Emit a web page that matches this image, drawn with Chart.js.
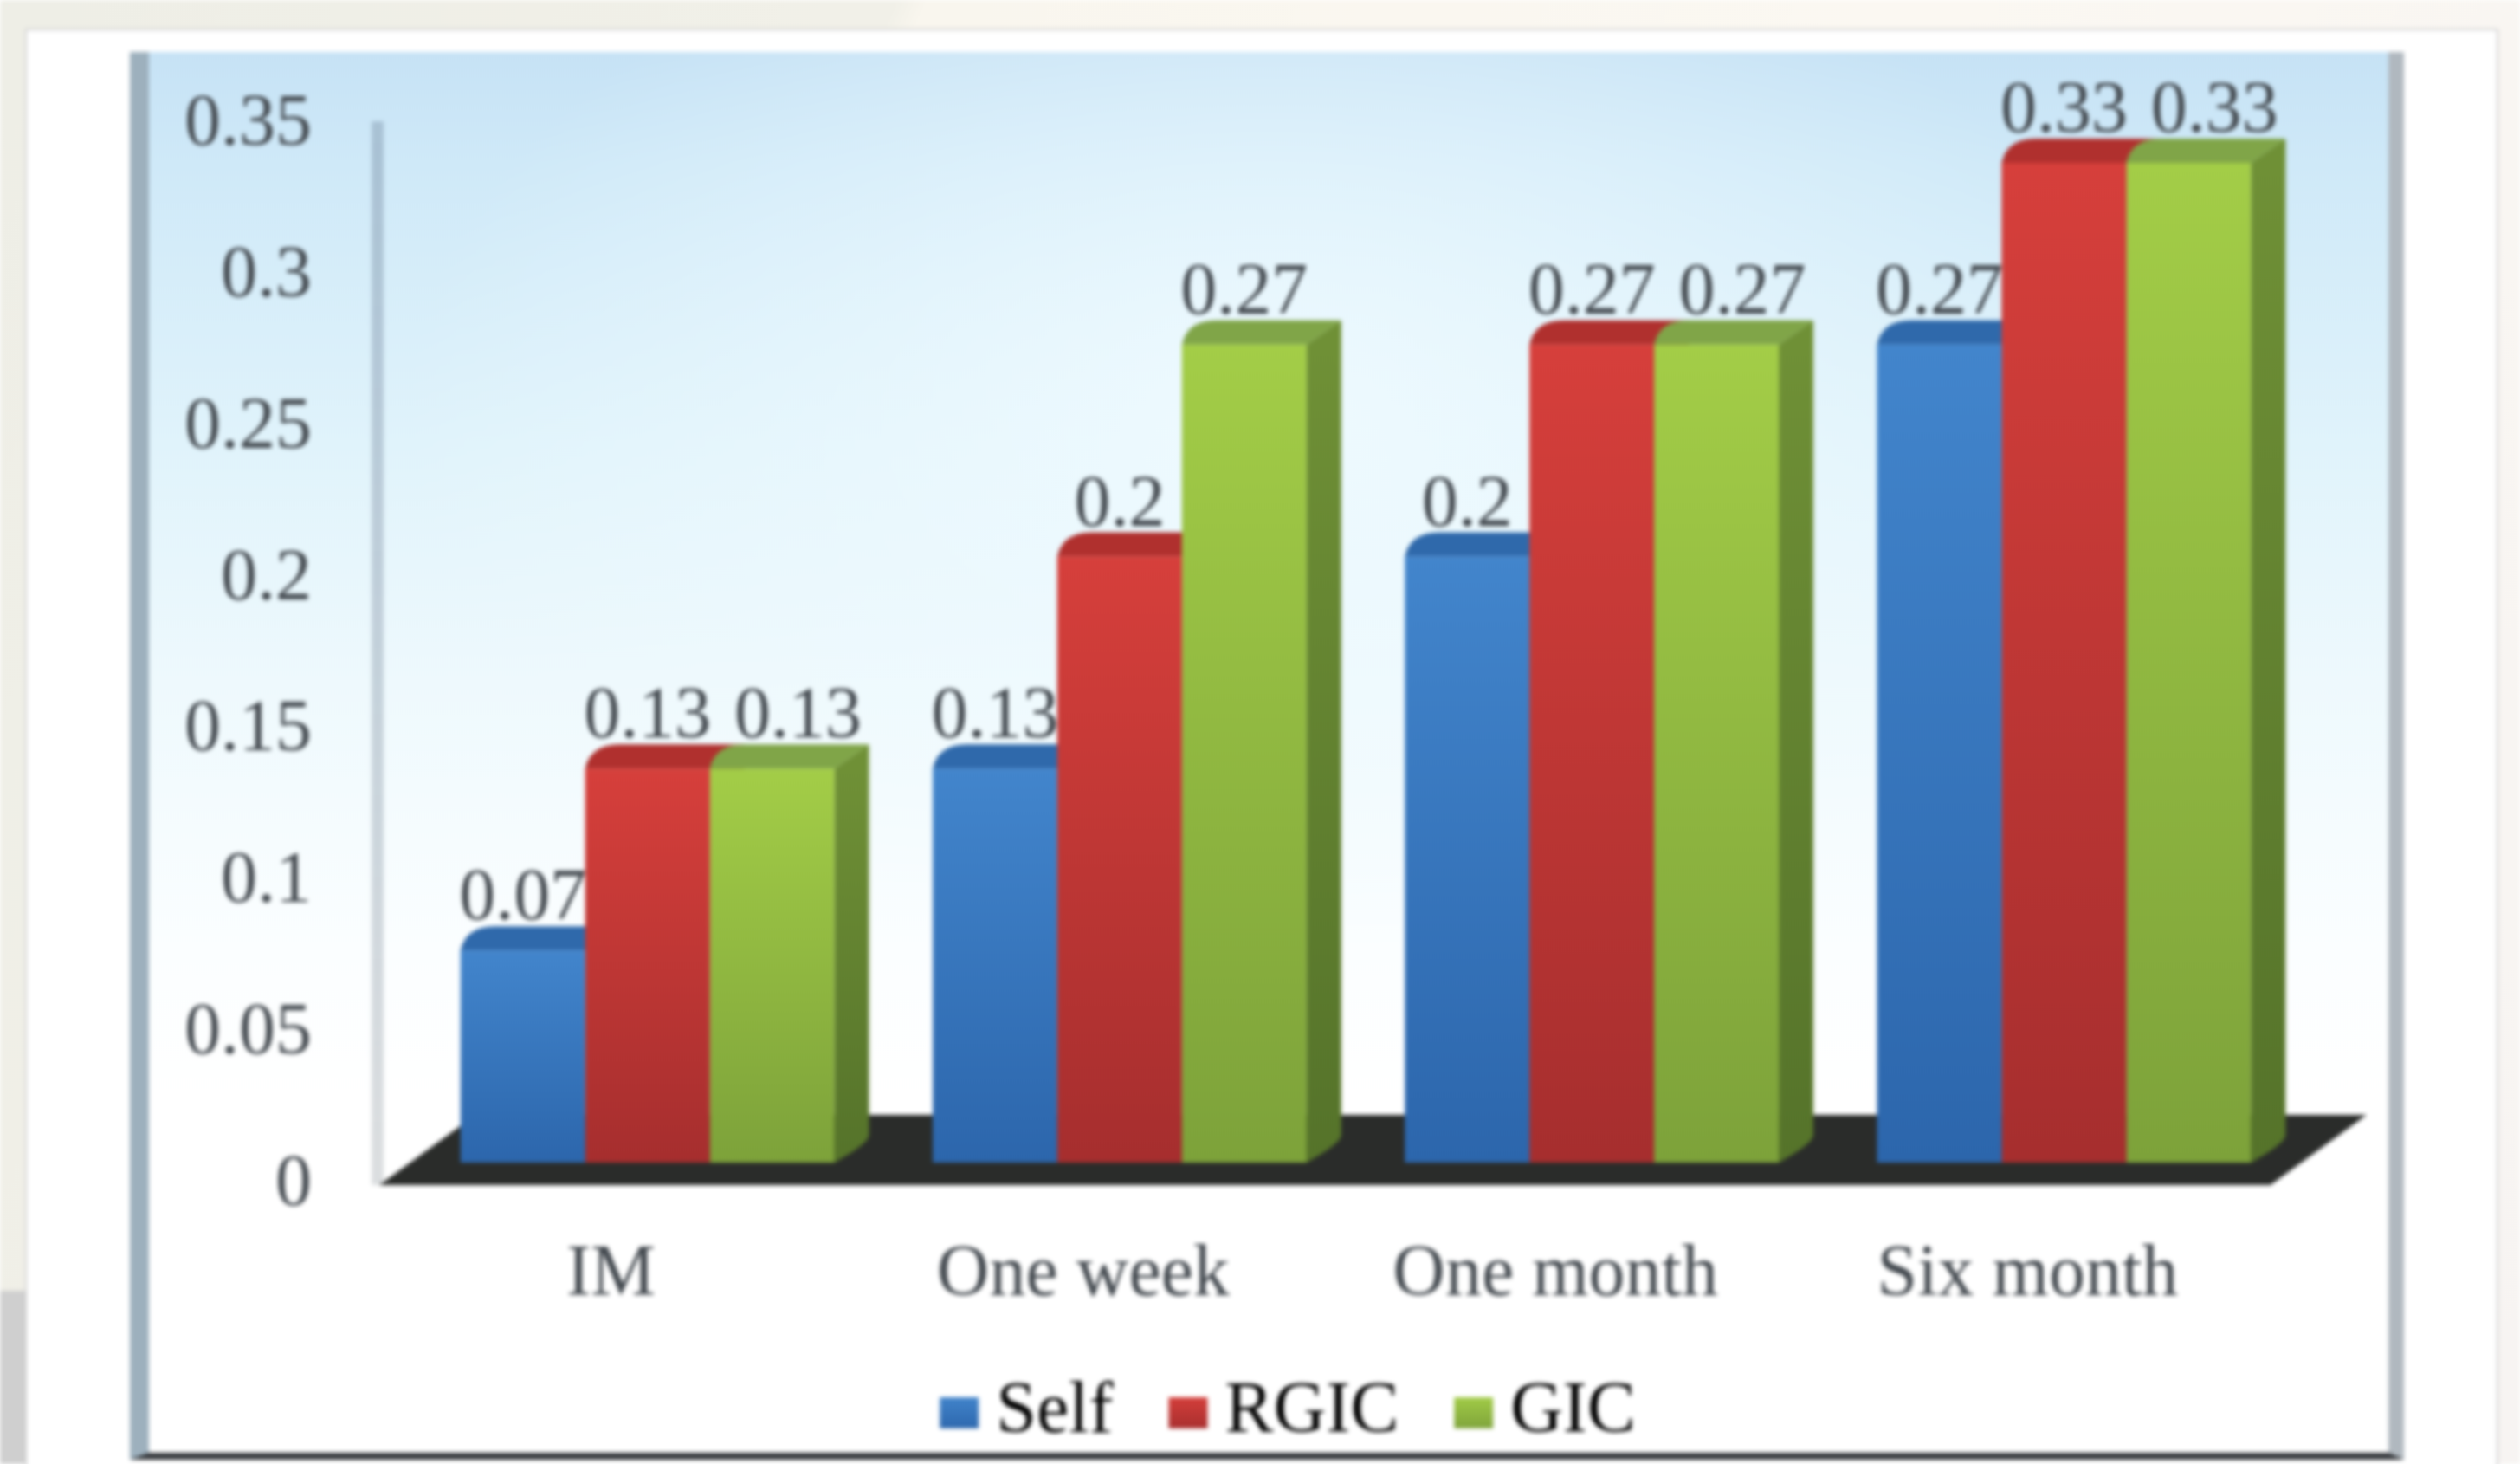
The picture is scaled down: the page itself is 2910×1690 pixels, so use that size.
<!DOCTYPE html>
<html>
<head>
<meta charset="utf-8">
<title>Chart</title>
<script src="https://cdn.jsdelivr.net/npm/chart.js@4"></script>
<style>
  html, body { margin: 0; padding: 0; width: 2910px; height: 1690px; overflow: hidden; }
  #wrap {
    position: absolute; left: 0; top: 0; width: 2910px; height: 1690px; filter: blur(2.6px);
    background:
      linear-gradient(180deg, rgba(204,204,204,0) 1490px, #cfcfcf 1490px) 0 0 / 29px 100% no-repeat,
      linear-gradient(115deg, #eeeee6 0, #f1f0e8 28%, #f9f6ee 29%, #fbf8f2 60%, #f7f4f2 100%);
  }
  #card { position: absolute; left: 29px; top: 33px; width: 2856px; height: 1680px; background: #fff; border: 2px solid #d0d0d0; box-sizing: border-box; }
  #frame {
    position: absolute; left: 150px; top: 60px; width: 2626px; height: 1625px; box-sizing: border-box;
    border-left: 22px solid #9db0bd; border-right: 18px solid #b0b8bf; border-bottom: 8px solid #33363a;
    background:
      radial-gradient(ellipse 1000px 620px at 50% 26%, rgba(240,251,255,0.9), rgba(240,251,255,0) 100%),
      linear-gradient(180deg, #c6e2f5 0, #cfe9f8 8%, #e0f3fb 28%, #eef9fd 45%, #fbfeff 64%, #ffffff 75%);
  }
  canvas { position: absolute; left: 0; top: 0; }
</style>
</head>
<body>
<div id="wrap">
  <div id="card"></div>
  <div id="frame"></div>
  <canvas id="barChart" width="2910" height="1690"></canvas>
</div>
<script>
// chart values
const categories = ['IM', 'One week', 'One month', 'Six month'];
const seriesNames = ['Self', 'RGIC', 'GIC'];
const selfValues = [0.07, 0.13, 0.2, 0.27];
const rgicValues = [0.13, 0.2, 0.27, 0.33];
const gicValues = [0.13, 0.27, 0.27, 0.33];

// [front top, front bottom, top face, side top, side bottom]
const palette = [
  ['#4285cc', '#2c66ac', '#2f69ab', '#2a5c96', '#234e80'],
  ['#d63f3b', '#a62e2e', '#b0302e', '#8e2a28', '#782322'],
  ['#a3cd47', '#7da23a', '#80a548', '#6f9036', '#55732a']
];
const DEPTH_X = 40, DEPTH_Y = 28;
const FONT = '"Liberation Serif", serif';
const TEXT = '#42484e';
const PLOT_BOTTOM = 1342;
const LEGEND_TOP = 1525;
const LEGEND_SHIFT = 59;

function frontFill(i) {
  return function (ctx) {
    const chart = ctx.chart;
    if (!chart.chartArea || ctx.type !== 'data' || !chart.scales.y) return palette[i][0];
    const y = chart.scales.y;
    const g = chart.ctx.createLinearGradient(0, y.getPixelForValue(ctx.parsed.y), 0, y.getPixelForValue(0));
    g.addColorStop(0, palette[i][0]);
    g.addColorStop(1, palette[i][1]);
    return g;
  };
}

// floor, axis wall, 3d faces and the value labels all go behind the bar fronts
const depthPlugin = {
  id: 'depth',
  afterLayout(chart) {
    // the legend sits off centre and higher than the layout would put it
    const lg = chart.legend;
    const dy = LEGEND_TOP - lg.top;
    lg.left += LEGEND_SHIFT;
    lg.right += LEGEND_SHIFT;
    lg.top += dy;
    lg.bottom += dy;
  },
  beforeDatasetsDraw(chart) {
    const c = chart.ctx, a = chart.chartArea;
    const base = chart.scales.y.getPixelForValue(0);
    c.save();

    // wall line left of the plot
    const wall = c.createLinearGradient(0, a.top, 0, base);
    wall.addColorStop(0, 'rgba(160,185,205,0.85)');
    wall.addColorStop(1, 'rgba(215,218,220,0.9)');
    c.fillStyle = wall;
    c.fillRect(a.left - 46, a.top + 22, 14, base - a.top + 4);

    // floor
    c.fillStyle = '#2a2c2a';
    c.beginPath();
    c.moveTo(a.left - 37, base + 26);
    c.lineTo(a.right - 34, base + 26);
    c.lineTo(a.right + 77, base - 55);
    c.lineTo(a.left + 74, base - 55);
    c.closePath();
    c.fill();

    chart.data.datasets.forEach((ds, i) => {
      chart.getDatasetMeta(i).data.forEach((bar) => {
        const w = bar.width / 2, l = bar.x - w, r = bar.x + w, t = bar.y;

        // side face
        const side = c.createLinearGradient(0, t, 0, base);
        side.addColorStop(0, palette[i][3]);
        side.addColorStop(1, palette[i][4]);
        c.fillStyle = side;
        c.beginPath();
        c.moveTo(r, t);
        c.lineTo(r + DEPTH_X, t - DEPTH_Y);
        c.lineTo(r + DEPTH_X, base - DEPTH_Y - 4);
        c.quadraticCurveTo(r + DEPTH_X, base - DEPTH_Y + 6, r, base);
        c.closePath();
        c.fill();

        // top face, back left corner rounded
        c.fillStyle = palette[i][2];
        c.beginPath();
        c.moveTo(l, t);
        c.quadraticCurveTo(l + 6, t - DEPTH_Y, l + DEPTH_X, t - DEPTH_Y);
        c.lineTo(r + DEPTH_X, t - DEPTH_Y);
        c.lineTo(r, t);
        c.closePath();
        c.fill();
      });
    });

    // value labels, the last one steps aside when it would touch its neighbour
    c.fillStyle = TEXT;
    c.font = '84px ' + FONT;
    c.textAlign = 'center';
    c.textBaseline = 'middle';
    const datasets = chart.data.datasets;
    datasets.forEach((ds, i) => {
      chart.getDatasetMeta(i).data.forEach((bar, j) => {
        const clash = i === 2 && ds.data[j] === datasets[1].data[j];
        c.fillText(String(ds.data[j]), bar.x + (clash ? 30 : 0), bar.y - 58);
      });
    });
    c.restore();
  },
  afterDraw(chart) {
    // wider legend swatches than the label gap allows
    const c = chart.ctx;
    chart.legend.legendHitBoxes.forEach((box, i) => {
      const mid = box.top + box.height / 2;
      const g = c.createLinearGradient(0, mid - 20, 0, mid + 20);
      g.addColorStop(0, palette[i][0]);
      g.addColorStop(1, palette[i][1]);
      c.fillStyle = g;
      c.fillRect(box.left, mid - 18, 45, 36);
    });
  }
};

new Chart(document.getElementById('barChart'), {
  type: 'bar',
  data: {
    labels: categories,
    datasets: [
      { label: seriesNames[0], data: selfValues, backgroundColor: frontFill(0) },
      { label: seriesNames[1], data: rgicValues, backgroundColor: frontFill(1) },
      { label: seriesNames[2], data: gicValues, backgroundColor: frontFill(2) }
    ]
  },
  options: {
    responsive: false,
    animation: false,
    devicePixelRatio: 1,
    layout: { padding: { left: 200, right: 254, top: 118, bottom: 0 } },
    datasets: { bar: { categoryPercentage: 0.792, barPercentage: 1 } },
    scales: {
      x: {
        grid: { display: false },
        border: { display: false },
        ticks: { font: { family: FONT, size: 84 }, color: TEXT, padding: 73, labelOffset: -42, maxRotation: 0, autoSkip: false },
        afterFit(scale) {
          scale.height = scale.chart.height - PLOT_BOTTOM - scale.chart.legend.height;
          scale.paddingLeft = 0;
          scale.paddingRight = 0;
        }
      },
      y: {
        min: 0,
        max: 0.35,
        grid: { display: false, drawTicks: false },
        border: { display: false },
        ticks: {
          stepSize: 0.05,
          font: { family: FONT, size: 84 },
          color: TEXT,
          padding: 115,
          labelOffset: 27,
          callback(value) { return String(+value.toFixed(2)); }
        },
        afterFit(scale) {
          scale.width = 275;
          scale.paddingTop = 0;
          scale.paddingBottom = 0;
        }
      }
    },
    plugins: {
      tooltip: { enabled: false },
      legend: {
        position: 'bottom',
        labels: {
          font: { family: FONT, size: 84 },
          color: TEXT,
          boxWidth: 23,
          boxHeight: 40,
          padding: 64,
          generateLabels(chart) {
            return chart.data.datasets.map((ds, i) => ({
              text: ds.label,
              datasetIndex: i,
              fillStyle: 'rgba(0,0,0,0)',
              strokeStyle: 'rgba(0,0,0,0)',
              lineWidth: 0
            }));
          }
        }
      }
    }
  },
  plugins: [depthPlugin]
});
</script>
</body>
</html>
